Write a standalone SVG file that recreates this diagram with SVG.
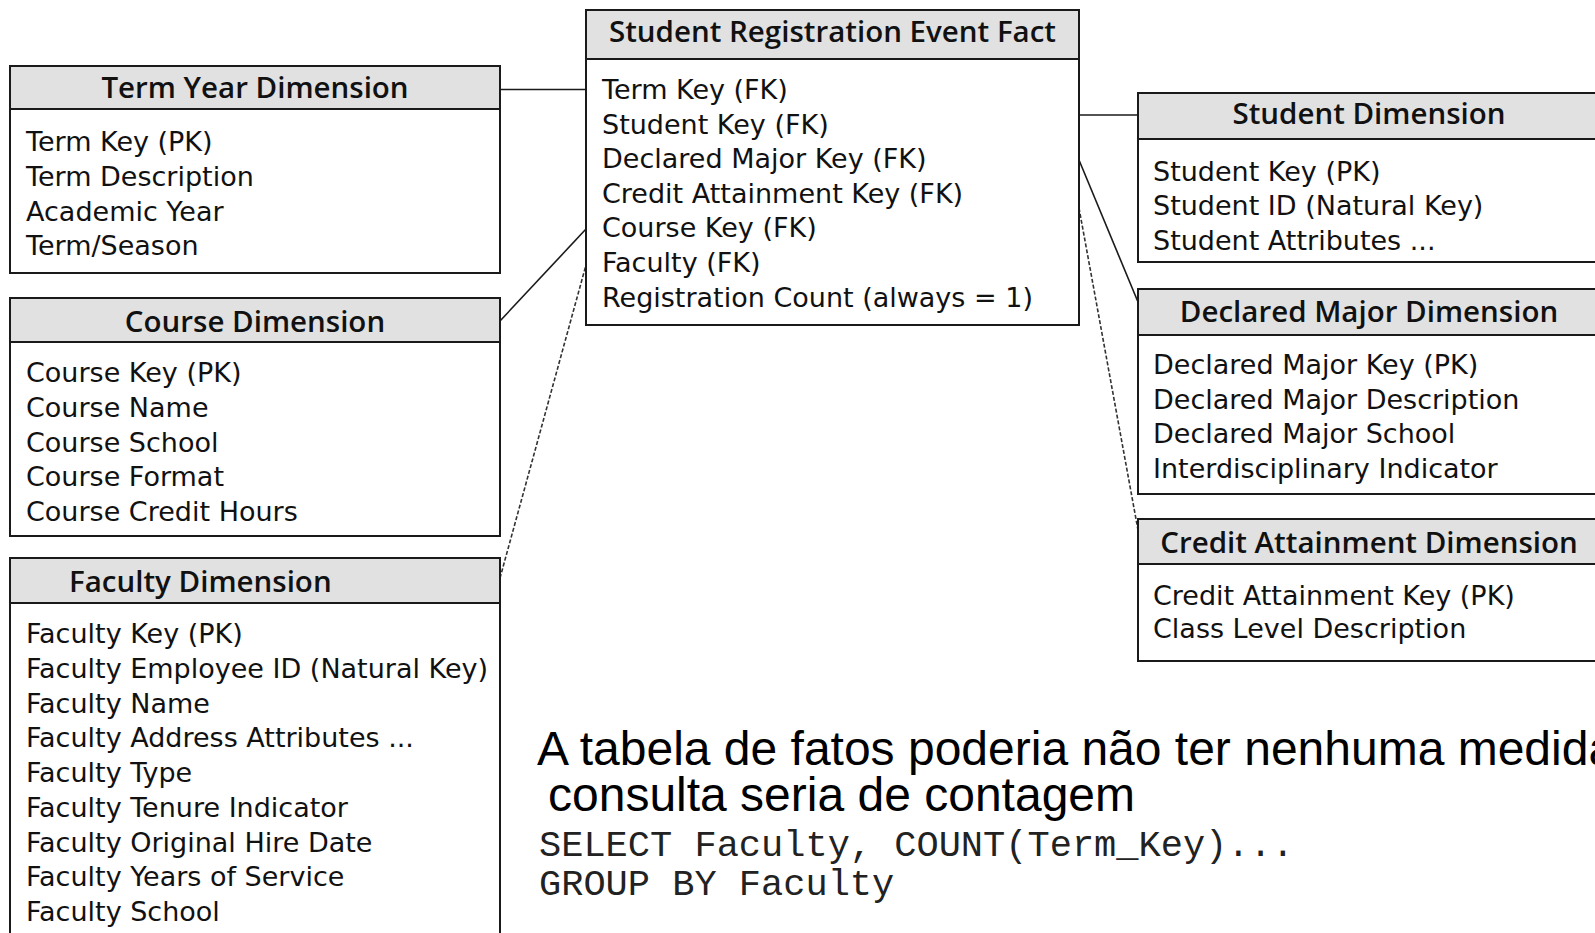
<svg xmlns="http://www.w3.org/2000/svg" width="1595" height="933" viewBox="0 0 1595 933">
<style>
.hdr{fill:#e1e1e1;stroke:#1a1a1a;stroke-width:2}
.body{fill:#fff;stroke:#1a1a1a;stroke-width:2}
.t{font-family:"DejaVu Sans","Open Sans",sans-serif;font-size:27px;fill:#111}
.h{font-family:"Open Sans","Noto Sans",sans-serif;font-size:29.5px;font-weight:600;fill:#111}
.c{text-anchor:middle}
.con{stroke:#1a1a1a;stroke-width:1.6;fill:none}
.dash{stroke:#333;stroke-dasharray:4 2}
.big{font-family:"Liberation Sans",Arial,sans-serif;font-size:48px;fill:#000}
.mono{font-family:"Liberation Mono","Courier New",monospace;font-size:37px;fill:#222}
</style>
<rect width="1595" height="933" fill="#fff"/>
<g id="connectors">
<line class="con" x1="500" y1="89.5" x2="586" y2="89.5"/>
<line class="con" x1="500" y1="321" x2="586" y2="229"/>
<line class="con dash" x1="500" y1="578" x2="586" y2="265"/>
<line class="con" x1="1079" y1="115" x2="1138" y2="115"/>
<line class="con" x1="1079" y1="160" x2="1138" y2="302"/>
<line class="con dash" x1="1079" y1="208" x2="1138" y2="530"/>
</g>
<g id="term-year-dimension">
<rect class="body" x="10" y="66" width="490" height="207"/>
<rect class="hdr" x="10" y="66" width="490" height="43"/>
<text class="h c" x="255" y="98">Term Year Dimension</text>
<text class="t"><tspan x="26" y="150.5">Term Key (PK)</tspan><tspan x="26" y="185.5">Term Description</tspan><tspan x="26" y="220.5">Academic Year</tspan><tspan x="26" y="254.5">Term/Season</tspan></text>
</g>
<g id="course-dimension">
<rect class="body" x="10" y="298" width="490" height="238"/>
<rect class="hdr" x="10" y="298" width="490" height="44"/>
<text class="h c" x="255" y="332">Course Dimension</text>
<text class="t"><tspan x="26" y="381.5">Course Key (PK)</tspan><tspan x="26" y="416.5">Course Name</tspan><tspan x="26" y="451.5">Course School</tspan><tspan x="26" y="485.5">Course Format</tspan><tspan x="26" y="520.5">Course Credit Hours</tspan></text>
</g>
<g id="faculty-dimension">
<rect class="body" x="10" y="558" width="490" height="390"/>
<rect class="hdr" x="10" y="558" width="490" height="45"/>
<text class="h" x="69" y="592">Faculty Dimension</text>
<text class="t"><tspan x="26" y="643">Faculty Key (PK)</tspan><tspan x="26" y="677.8">Faculty Employee ID (Natural Key)</tspan><tspan x="26" y="712.5">Faculty Name</tspan><tspan x="26" y="747.2">Faculty Address Attributes ...</tspan><tspan x="26" y="782">Faculty Type</tspan><tspan x="26" y="816.7">Faculty Tenure Indicator</tspan><tspan x="26" y="851.5">Faculty Original Hire Date</tspan><tspan x="26" y="886.2">Faculty Years of Service</tspan><tspan x="26" y="921">Faculty School</tspan></text>
</g>
<g id="student-registration-event-fact">
<rect class="body" x="586" y="10" width="493" height="315"/>
<rect class="hdr" x="586" y="10" width="493" height="49"/>
<text class="h c" x="832.5" y="42">Student Registration Event Fact</text>
<text class="t"><tspan x="602" y="99">Term Key (FK)</tspan><tspan x="602" y="133.6">Student Key (FK)</tspan><tspan x="602" y="168.2">Declared Major Key (FK)</tspan><tspan x="602" y="202.8">Credit Attainment Key (FK)</tspan><tspan x="602" y="237.4">Course Key (FK)</tspan><tspan x="602" y="272">Faculty (FK)</tspan><tspan x="602" y="306.6">Registration Count (always = 1)</tspan></text>
</g>
<g id="student-dimension">
<rect class="body" x="1138" y="93" width="462" height="169"/>
<rect class="hdr" x="1138" y="93" width="462" height="46"/>
<text class="h c" x="1369" y="124">Student Dimension</text>
<text class="t"><tspan x="1153" y="180.5">Student Key (PK)</tspan><tspan x="1153" y="215">Student ID (Natural Key)</tspan><tspan x="1153" y="249.5">Student Attributes ...</tspan></text>
</g>
<g id="declared-major-dimension">
<rect class="body" x="1138" y="289" width="462" height="205"/>
<rect class="hdr" x="1138" y="289" width="462" height="46"/>
<text class="h c" x="1369" y="322">Declared Major Dimension</text>
<text class="t"><tspan x="1153" y="374">Declared Major Key (PK)</tspan><tspan x="1153" y="408.5">Declared Major Description</tspan><tspan x="1153" y="443">Declared Major School</tspan><tspan x="1153" y="477.5">Interdisciplinary Indicator</tspan></text>
</g>
<g id="credit-attainment-dimension">
<rect class="body" x="1138" y="519" width="462" height="142"/>
<rect class="hdr" x="1138" y="519" width="462" height="45"/>
<text class="h c" x="1369" y="553">Credit Attainment Dimension</text>
<text class="t"><tspan x="1153" y="604.5">Credit Attainment Key (PK)</tspan><tspan x="1153" y="638">Class Level Description</tspan></text>
</g>
<g id="note">
<text class="big"><tspan x="537" y="765">A tabela de fatos poderia não ter nenhuma medida</tspan><tspan x="548" y="811">consulta seria de contagem</tspan></text>
<text class="mono"><tspan x="539" y="856">SELECT Faculty, COUNT(Term_Key)...</tspan><tspan x="539" y="895">GROUP BY Faculty</tspan></text>
</g>
</svg>
